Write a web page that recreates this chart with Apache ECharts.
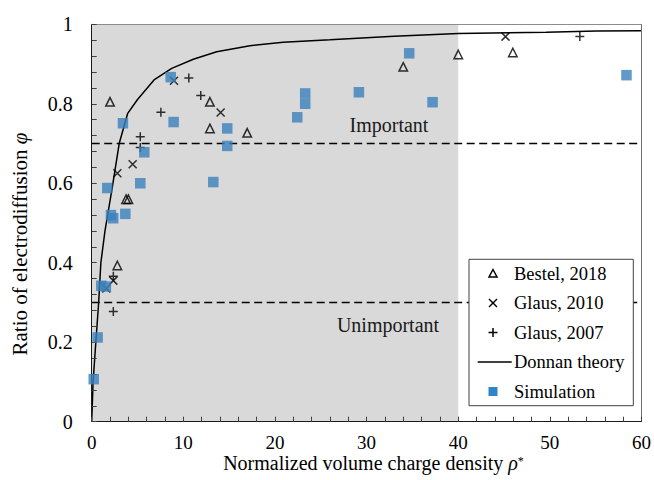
<!DOCTYPE html>
<html><head><meta charset="utf-8">
<script src="https://cdn.jsdelivr.net/npm/echarts@6/dist/echarts.min.js"></script>
<style>html,body{margin:0;padding:0;background:#fff}#c{width:654px;height:480px}</style>
</head><body><div id="c"></div>
<script>
// Data
const xTicks = [0, 10, 20, 30, 40, 50, 60];
const yTicks = [0, 0.2, 0.4, 0.6, 0.8, 1];
const bestel2018 = [[2.0,0.805],[2.8,0.393],[3.75,0.560],[4.0,0.560],[12.9,0.805],[12.9,0.738],[16.97,0.727],[34.0,0.893],[40.0,0.924],[45.96,0.929]];
const glaus2010 = [[1.6,0.335],[2.36,0.355],[2.8,0.625],[4.47,0.648],[8.98,0.858],[14.07,0.778],[45.16,0.969]];
const glaus2007 = [[2.36,0.277],[2.36,0.366],[5.3,0.717],[5.3,0.69],[7.55,0.779],[10.6,0.865],[11.9,0.821],[53.27,0.969]];
const donnan = [[0,0],[0.15,0.1],[0.45,0.2],[0.76,0.3],[1.0,0.4],[1.45,0.48],[2.25,0.59],[3.0,0.70],[3.93,0.776],[4.98,0.81],[6.8,0.86],[8.73,0.889],[11.09,0.912],[13.64,0.931],[17.27,0.946],[20.9,0.955],[26,0.961],[33,0.970],[40,0.977],[49.6,0.980],[55.1,0.983],[60,0.984]];
const simulation = [[0.22,0.107],[0.65,0.212],[1.05,0.342],[1.55,0.340],[1.70,0.588],[2.1,0.52],[2.35,0.512],[3.67,0.523],[3.41,0.751],[5.30,0.600],[5.74,0.678],[8.62,0.867],[8.94,0.754],[13.27,0.603],[14.79,0.738],[14.79,0.694],[22.43,0.766],[23.30,0.826],[23.30,0.800],[29.16,0.829],[34.65,0.927],[37.20,0.804],[58.36,0.872]];
const legendNames = ['Bestel, 2018', 'Glaus, 2010', 'Glaus, 2007', 'Donnan theory', 'Simulation'];
const importantLevel = 0.7;
const unimportantLevel = 0.3;
const shadedRange = [0, 40];

const FONT = "'Liberation Serif', 'Times New Roman', serif";
const SIM_COLOR = '#3a80ba';
const chart = echarts.init(document.getElementById('c'), null, {renderer: 'svg'});
const axisCommon = {
  type: 'value', z: 10,
  axisLine: {show: true, onZero: false, lineStyle: {color: '#1a1a1a', width: 1}},
  axisTick: {show: true, inside: true, length: 5, lineStyle: {color: '#404040'}},
  minorTick: {show: true, splitNumber: 5, length: 5, lineStyle: {color: '#404040'}},
  splitLine: {show: false}
};
const hline = (y) => [[xTicks[0], y], [xTicks[xTicks.length - 1], y]];

// Legend drawn as a framed box (icons + real text)
const LX = 493, rows = [273.5, 303, 332.5, 362, 391.5], TX = 514;
const stroke = {stroke: '#000', lineWidth: 1.5, fill: null};
const legendGraphics = [
  {type: 'rect', shape: {x: 469, y: 259.3, width: 164.3, height: 146.4}, style: {fill: '#fff', stroke: '#404040', lineWidth: 1}, z: 20},
  {type: 'polygon', shape: {points: [[LX, rows[0] - 4], [LX + 4, rows[0] + 3.5], [LX - 4, rows[0] + 3.5]]}, style: stroke, z: 21},
  {type: 'polyline', shape: {points: [[LX - 4, rows[1] - 4], [LX + 4, rows[1] + 4]]}, style: stroke, z: 21},
  {type: 'polyline', shape: {points: [[LX + 4, rows[1] - 4], [LX - 4, rows[1] + 4]]}, style: stroke, z: 21},
  {type: 'polyline', shape: {points: [[LX, rows[2] - 4.5], [LX, rows[2] + 4.5]]}, style: stroke, z: 21},
  {type: 'polyline', shape: {points: [[LX - 4.5, rows[2]], [LX + 4.5, rows[2]]]}, style: stroke, z: 21},
  {type: 'line', shape: {x1: 477.7, y1: rows[3], x2: 511.7, y2: rows[3]}, style: {stroke: '#000', lineWidth: 1.5}, z: 21},
  {type: 'rect', shape: {x: LX - 4.5, y: rows[4] - 4.5, width: 9, height: 9}, style: {fill: '#2f86c6'}, z: 21}
].concat(legendNames.map((n, i) => ({
  type: 'text', x: TX, y: rows[i], z: 22,
  style: {text: n, font: '18.5px "Liberation Serif"', fill: '#000', align: 'left', verticalAlign: 'middle'}
})));

chart.setOption({
  animation: false,
  textStyle: {fontFamily: FONT},
  grid: {left: 91.7, top: 24.3, right: 12.3, bottom: 58.3, show: false},
  xAxis: [
    Object.assign({}, axisCommon, {min: xTicks[0], max: xTicks[xTicks.length - 1], interval: 10,
      axisLabel: {fontFamily: FONT, fontSize: 19, color: '#000', margin: 13, lineHeight: 16}}),
    {type: 'value', position: 'top', min: 0, max: 60, z: 10,
      axisLine: {show: true, onZero: false, lineStyle: {color: '#8c8c8c', width: 1}},
      axisTick: {show: false}, axisLabel: {show: false}, splitLine: {show: false}}
  ],
  yAxis: [
    Object.assign({}, axisCommon, {min: yTicks[0], max: yTicks[yTicks.length - 1], interval: 0.2,
      axisLabel: {fontFamily: FONT, fontSize: 20, color: '#000', margin: 19}}),
    {type: 'value', position: 'right', min: 0, max: 1, z: 10,
      axisLine: {show: true, onZero: false, lineStyle: {color: '#6e6e6e', width: 1}},
      axisTick: {show: false}, axisLabel: {show: false}, splitLine: {show: false}}
  ],
  graphic: [
    {type: 'text', x: 389, y: 124.5, z: 30, style: {text: 'Important', font: '20px "Liberation Serif"', fill: '#1a1a1a', align: 'center', verticalAlign: 'middle'}},
    {type: 'text', x: 388, y: 325, z: 30, style: {text: 'Unimportant', font: '20px "Liberation Serif"', fill: '#1a1a1a', align: 'center', verticalAlign: 'middle'}},
    {type: 'text', x: 373.5, y: 462.5, z: 30, style: {
      text: 'Normalized volume charge density {i|ρ}{s|*}', font: '20px "Liberation Serif"', lineHeight: 16, fill: '#000', align: 'center', verticalAlign: 'middle',
      rich: {i: {fontFamily: FONT, fontSize: 20, lineHeight: 16, fontStyle: 'italic', fill: '#000'}, s: {fontFamily: FONT, fontSize: 12, lineHeight: 16, verticalAlign: 'top', fill: '#000'}}}},
    {type: 'text', x: 20, y: 244, rotation: Math.PI / 2, z: 30, style: {
      text: 'Ratio of electrodiffusion {i|φ}', font: '21px "Liberation Serif"', fill: '#000', align: 'center', verticalAlign: 'middle',
      rich: {i: {fontFamily: FONT, fontSize: 21, fontStyle: 'italic', fill: '#000'}}}}
  ].concat(legendGraphics),
  series: [
    {name: 'shade', type: 'line', data: [], z: 1, silent: true,
      markArea: {silent: true, itemStyle: {color: '#d9d9d9', opacity: 1}, data: [[{xAxis: shadedRange[0]}, {xAxis: shadedRange[1]}]]}},
    {name: 'important', type: 'line', data: hline(importantLevel), symbol: 'none', z: 3, silent: true,
      lineStyle: {color: '#000', width: 1.5, type: [8, 4.5]}},
    {name: 'unimportant', type: 'line', data: hline(unimportantLevel), symbol: 'none', z: 3, silent: true,
      lineStyle: {color: '#000', width: 1.5, type: [8, 4.5]}},
    {name: legendNames[3], type: 'line', data: donnan, symbol: 'none', showSymbol: false, z: 4, silent: true,
      lineStyle: {color: '#000', width: 1.5}, itemStyle: {color: '#000'}},
    {name: legendNames[0], type: 'scatter', data: bestel2018, symbol: 'triangle', symbolSize: 8.5, z: 5, silent: true,
      itemStyle: {color: 'rgba(0,0,0,0)', borderColor: '#000', borderWidth: 1.5}},
    {name: legendNames[1], type: 'scatter', data: glaus2010, symbol: 'path://M0,0L10,10M10,0L0,10', symbolSize: 8, z: 5, silent: true,
      itemStyle: {color: 'none', borderColor: '#000', borderWidth: 1.5}},
    {name: legendNames[2], type: 'scatter', data: glaus2007, symbol: 'path://M5,0L5,10M0,5L10,5', symbolSize: 9, z: 5, silent: true,
      itemStyle: {color: 'none', borderColor: '#000', borderWidth: 1.5}},
    {name: legendNames[4], type: 'scatter', data: simulation, symbol: 'rect', symbolSize: 10.5, z: 12, silent: true,
      itemStyle: {color: SIM_COLOR}}
  ]
});
</script>
</body></html>
